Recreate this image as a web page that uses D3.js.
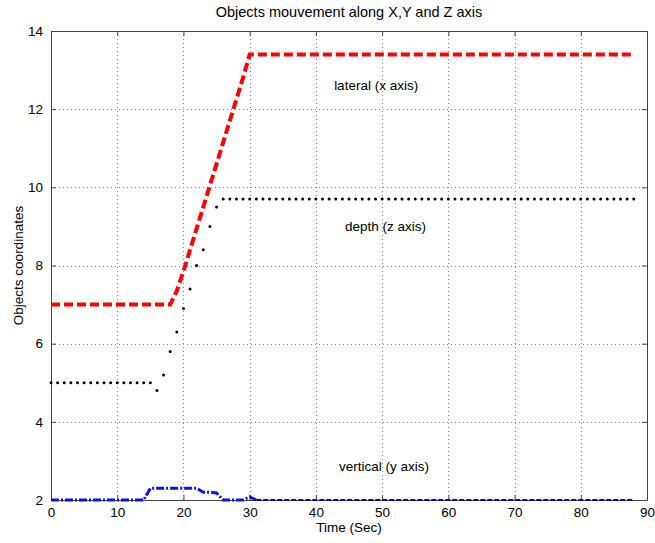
<!DOCTYPE html>
<html>
<head>
<meta charset="utf-8">
<script src="https://cdn.jsdelivr.net/npm/d3@7"></script>
<style>
html,body{margin:0;padding:0;background:#fff;}
svg{display:block;font-family:"Liberation Sans",Arial,sans-serif;}
</style>
</head>
<body>
<svg id="chart" width="655" height="543"></svg>
<script>
// ---- data ----
const xTicks = [0,10,20,30,40,50,60,70,80,90];
const yTicks = [2,4,6,8,10,12,14];

const lateralTime  = [0,18,19,20,21,22,23,24,25,26,27,28,29,30,88];
const lateralValue = [7.0,7.0,7.35,7.85,8.4,8.95,9.5,10.05,10.6,11.15,11.7,12.25,12.8,13.4,13.4];

const depthTime = [0,1,2,3,4,5,6,7,8,9,10,11,12,13,14,15,16,17,18,19,20,21,22,23,24,25,26,27,28,29,
  30,31,32,33,34,35,36,37,38,39,40,41,42,43,44,45,46,47,48,49,50,51,52,53,54,55,56,57,58,59,
  60,61,62,63,64,65,66,67,68,69,70,71,72,73,74,75,76,77,78,79,80,81,82,83,84,85,86,87,88];
const depthValue = [5,5,5,5,5,5,5,5,5,5,5,5,5,5,5,5,4.8,5.2,5.8,6.3,6.9,7.4,8.0,8.4,9.0,9.5,
  9.7,9.7,9.7,9.7,9.7,9.7,9.7,9.7,9.7,9.7,9.7,9.7,9.7,9.7,9.7,9.7,9.7,9.7,9.7,9.7,9.7,9.7,9.7,9.7,
  9.7,9.7,9.7,9.7,9.7,9.7,9.7,9.7,9.7,9.7,9.7,9.7,9.7,9.7,9.7,9.7,9.7,9.7,9.7,9.7,9.7,9.7,9.7,9.7,
  9.7,9.7,9.7,9.7,9.7,9.7,9.7,9.7,9.7,9.7,9.7,9.7,9.7,9.7,9.7];

const verticalTime  = [0,14,15,22,23,24,25,26,29,30,31];
const verticalValue = [2.0,2.0,2.3,2.3,2.2,2.2,2.18,2.0,2.0,2.08,2.0];
const verticalTailTime  = [31,88];
const verticalTailValue = [2.0,2.0];

const labels = [
  {text:"lateral (x axis)", t:49.1, v:12.5},
  {text:"depth (z axis)", t:50.5, v:8.88},
  {text:"vertical (y axis)", t:50.3, v:2.74}
];

// ---- layout ----
const svg = d3.select("#chart");
const m = {left:51, right:8, top:31, bottom:43};
const W = 655, H = 543;
const x = d3.scaleLinear().domain([0,90]).range([m.left, W - m.right]);
const y = d3.scaleLinear().domain([2,14]).range([H - m.bottom, m.top]);
const FS = "13.5px";

// grid
const grid = svg.append("g").attr("stroke","#8a8a8a").attr("stroke-width",1).attr("stroke-dasharray","1,3");
xTicks.slice(1,-1).forEach(t=>{
  grid.append("line").attr("x1",Math.round(x(t))+0.5).attr("x2",Math.round(x(t))+0.5)
    .attr("y1",y(14)).attr("y2",y(2));
});
yTicks.slice(1,-1).forEach(t=>{
  grid.append("line").attr("y1",Math.round(y(t))+0.5).attr("y2",Math.round(y(t))+0.5)
    .attr("x1",x(0)).attr("x2",x(90));
});

// axes
const axColor = "#444";
const gBottom = svg.append("g").attr("transform",`translate(0,${y(2)})`)
  .call(d3.axisBottom(x).tickValues(xTicks).tickSizeInner(-5).tickSizeOuter(0).tickPadding(7));
const gTop = svg.append("g").attr("transform",`translate(0,${y(14)})`)
  .call(d3.axisTop(x).tickValues(xTicks).tickSizeInner(-5).tickSizeOuter(0).tickFormat(""));
const gLeft = svg.append("g").attr("transform",`translate(${x(0)},0)`)
  .call(d3.axisLeft(y).tickValues(yTicks).tickSizeInner(-5).tickSizeOuter(0).tickPadding(8));
const gRight = svg.append("g").attr("transform",`translate(${x(90)},0)`)
  .call(d3.axisRight(y).tickValues(yTicks).tickSizeInner(-5).tickSizeOuter(0).tickFormat(""));
[gBottom,gTop,gLeft,gRight].forEach(g=>{
  g.selectAll("path").attr("stroke",axColor);
  g.selectAll("line").attr("stroke",axColor);
  g.selectAll("text").attr("fill","#000").style("font-size",FS).style("font-family","'Liberation Sans',Arial,sans-serif");
});

// series
const line = d3.line().x(d=>x(d[0])).y(d=>y(d[1]));
const zip = (a,b)=>a.map((t,i)=>[t,b[i]]);

svg.append("path").datum(zip(verticalTailTime,verticalTailValue)).attr("d",line)
  .attr("fill","none").attr("stroke","#0a0a9a").attr("stroke-width",2).attr("stroke-dasharray","5,2");
svg.append("path").datum(zip(verticalTime,verticalValue)).attr("d",line)
  .attr("fill","none").attr("stroke","#1010d8").attr("stroke-width",3).attr("stroke-dasharray","8,2,2,2");

svg.append("path").datum(zip(lateralTime,lateralValue)).attr("d",line)
  .attr("fill","none").attr("stroke","#ff0000").attr("stroke-width",4).attr("stroke-dasharray","9,4");

svg.append("g").selectAll("circle").data(zip(depthTime,depthValue)).join("circle")
  .attr("cx",d=>x(d[0])).attr("cy",d=>y(d[1])).attr("r",1.5).attr("fill","#000");

// annotations
svg.append("g").selectAll("text").data(labels).join("text")
  .attr("x",d=>x(d.t)).attr("y",d=>y(d.v)).attr("text-anchor","middle")
  .style("font-size",FS).attr("fill","#000").text(d=>d.text);

// titles
svg.append("text").attr("x",(x(0)+x(90))/2).attr("y",17).attr("text-anchor","middle")
  .style("font-size","14.5px").text("Objects mouvement along X,Y and Z axis");
svg.append("text").attr("x",(x(0)+x(90))/2).attr("y",532).attr("text-anchor","middle")
  .style("font-size",FS).text("Time (Sec)");
svg.append("text").attr("transform",`translate(23,${(y(2)+y(14))/2}) rotate(-90)`).attr("text-anchor","middle")
  .style("font-size",FS).text("Objects coordinates");
</script>
</body>
</html>
